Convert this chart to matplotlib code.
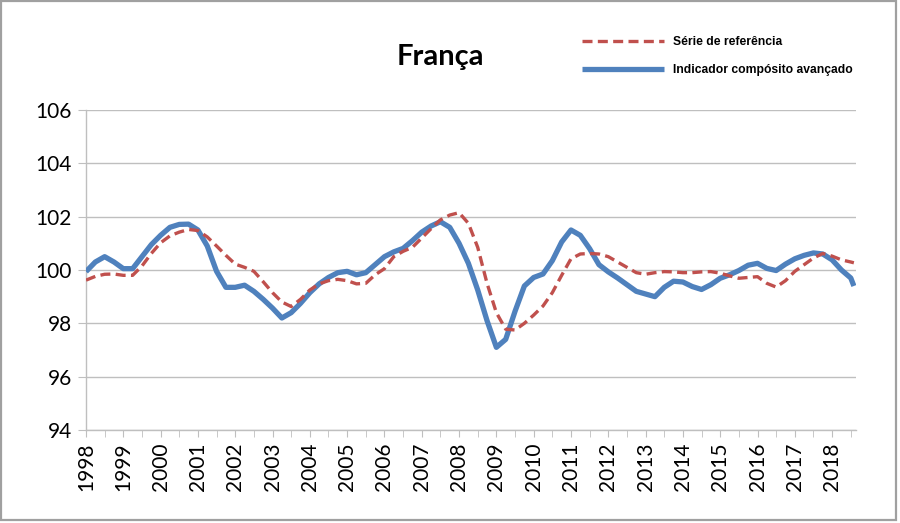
import numpy as np
import pandas as pd
import matplotlib
matplotlib.use("Agg")
import matplotlib.pyplot as plt
from matplotlib.patches import Rectangle

# Datas trimestrais (último ponto = agosto 2018)
datas = list(pd.date_range("1998-01-01", "2018-07-01", freq="QS")) + [pd.Timestamp("2018-08-01")]
anos = [d.year + (d.month - 1) / 12 for d in datas]

# Indicador compósito avançado
indicador = [
    99.94, 100.30, 100.50, 100.30,    # 1998
    100.05, 100.05, 100.50, 100.95,   # 1999
    101.30, 101.60, 101.71, 101.72,   # 2000
    101.50, 100.90, 99.95, 99.35,     # 2001
    99.35, 99.43, 99.20, 98.90,       # 2002
    98.57, 98.20, 98.40, 98.75,       # 2003
    99.15, 99.48, 99.72, 99.90,       # 2004
    99.95, 99.82, 99.90, 100.20,      # 2005
    100.50, 100.68, 100.81, 101.10,   # 2006
    101.42, 101.65, 101.81, 101.60,   # 2007
    101.00, 100.25, 99.25, 98.10,     # 2008
    97.10, 97.40, 98.45, 99.40,       # 2009
    99.72, 99.85, 100.35, 101.05,     # 2010
    101.50, 101.30, 100.80, 100.20,   # 2011
    99.93, 99.70, 99.45, 99.20,       # 2012
    99.10, 99.00, 99.35, 99.58,       # 2013
    99.55, 99.38, 99.27, 99.45,       # 2014
    99.69, 99.82, 99.98, 100.18,      # 2015
    100.25, 100.06, 99.98, 100.22,    # 2016
    100.42, 100.55, 100.64, 100.60,   # 2017
    100.38, 100.00, 99.70, 99.40,     # 2018
]

# Série de referência
referencia = [
    99.62, 99.76, 99.84, 99.85,       # 1998
    99.80, 99.80, 100.15, 100.62,     # 1999
    101.02, 101.28, 101.42, 101.52,   # 2000
    101.48, 101.24, 100.90, 100.55,   # 2001
    100.22, 100.10, 99.95, 99.56,     # 2002
    99.15, 98.80, 98.63, 98.90,       # 2003
    99.25, 99.48, 99.60, 99.65,       # 2004
    99.60, 99.48, 99.50, 99.82,       # 2005
    100.05, 100.50, 100.70, 100.85,   # 2006
    101.20, 101.55, 101.88, 102.06,   # 2007
    102.15, 101.75, 100.85, 99.50,    # 2008
    98.40, 97.78, 97.75, 98.00,       # 2009
    98.31, 98.65, 99.15, 99.80,       # 2010
    100.42, 100.60, 100.62, 100.60,   # 2011
    100.50, 100.30, 100.10, 99.90,    # 2012
    99.84, 99.90, 99.94, 99.93,       # 2013
    99.90, 99.90, 99.93, 99.94,       # 2014
    99.88, 99.78, 99.69, 99.72,       # 2015
    99.75, 99.50, 99.36, 99.60,       # 2016
    99.95, 100.20, 100.45, 100.62,    # 2017
    100.52, 100.38, 100.30, 100.27,   # 2018
]

anos_rotulos = list(range(1998, 2019))
y_ticks = [94, 96, 98, 100, 102, 104, 106]

AZUL = "#4F81BD"
VERMELHO = "#C0504D"
CINZA = "#BFBFBF"

fig = plt.figure(figsize=(9, 5.23), dpi=100)
ax = fig.add_axes([86 / 900, 1 - 430 / 523, 770 / 900, 320 / 523])

ax.plot(anos, indicador, color=AZUL, lw=3.8, solid_joinstyle="round",
        solid_capstyle="butt", label="Indicador compósito avançado", zorder=3)
ax.plot(anos, referencia, color=VERMELHO, lw=2.4, dashes=(3, 1.6),
        label="Série de referência", zorder=4)

ax.set_xlim(1998, 2018.64)
ax.set_ylim(94, 106)
ax.set_yticks(y_ticks)
ax.set_yticklabels([str(v) for v in y_ticks], fontfamily="Lato", fontsize=15)
ax.set_xticks(anos_rotulos)
ax.set_xticklabels([str(a) for a in anos_rotulos], rotation=90,
                   fontfamily="Lato", fontsize=15)
ax.set_xticks(np.arange(1998.5, 2018.6, 1.0), minor=True)

ax.grid(axis="y", color=CINZA, lw=1)
ax.set_axisbelow(True)
for s in ["top", "right"]:
    ax.spines[s].set_visible(False)
for s in ["left", "bottom"]:
    ax.spines[s].set_color(CINZA)
    ax.spines[s].set_linewidth(1)
ax.tick_params(axis="y", length=6, color=CINZA, pad=4)
ax.tick_params(axis="x", which="both", length=5, color=CINZA, pad=4)

fig.text(440 / 900, 1 - 57 / 523, "França", ha="center", va="center",
         fontfamily="Lato", fontweight="bold", fontsize=21)

h, l = ax.get_legend_handles_labels()
fig.legend(h[::-1], l[::-1], loc="upper left",
           bbox_to_anchor=(582 / 900, 1 - 36 / 523), frameon=False,
           prop={"family": "Liberation Sans", "weight": "bold", "size": 8.7},
           handlelength=6.8, handletextpad=0.75, labelspacing=1.35,
           borderpad=0, borderaxespad=0)

fig.patches.append(Rectangle((1 / 900, 3 / 523), 895 / 900, 519 / 523,
                             transform=fig.transFigure, fill=False,
                             edgecolor="#A0A0A0", lw=1.6))

fig.savefig("out.png", dpi=100)
